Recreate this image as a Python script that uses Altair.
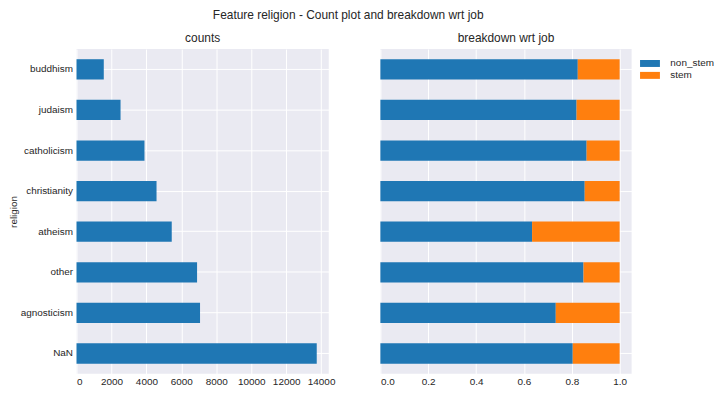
import altair as alt
import pandas as pd

religions = ["buddhism", "judaism", "catholicism", "christianity", "atheism", "other", "agnosticism", "NaN"]
counts = [1560, 2520, 3890, 4580, 5450, 6900, 7070, 13750]
non_stem_share = [0.825, 0.820, 0.862, 0.854, 0.634, 0.849, 0.733, 0.804]
stem_share = [0.175, 0.180, 0.138, 0.146, 0.366, 0.151, 0.267, 0.196]
jobs = ["non_stem", "stem"]
count_ticks = [0, 2000, 4000, 6000, 8000, 10000, 12000, 14000]
share_ticks = [0.0, 0.2, 0.4, 0.6, 0.8, 1.0]

FONT = "Liberation Sans"
TXT = "#262626"
BG = "#EAEAF2"

df_counts = pd.DataFrame({"religion": religions, "count": counts})
rows = []
for r, a, b in zip(religions, non_stem_share, stem_share):
    rows.append({"religion": r, "job": jobs[0], "share": a, "ord": 0})
    rows.append({"religion": r, "job": jobs[1], "share": b, "ord": 1})
df_share = pd.DataFrame(rows)

yscale = alt.Scale(domain=religions, paddingInner=0.5, paddingOuter=0.25)

left = alt.Chart(df_counts, title=alt.TitleParams("counts", fontSize=12, offset=4)).mark_bar(
    color="#1f77b4"
).encode(
    y=alt.Y("religion:N", scale=yscale, sort=religions,
            axis=alt.Axis(title="religion", labelPadding=4, titlePadding=2)),
    x=alt.X("count:Q", scale=alt.Scale(domain=[0, 14437], nice=False, zero=True),
            axis=alt.Axis(title=None, values=count_ticks, format="d")),
).properties(width=254, height=327)

right = alt.Chart(df_share, title=alt.TitleParams("breakdown wrt job", fontSize=12, offset=4)).mark_bar().encode(
    y=alt.Y("religion:N", scale=yscale, sort=religions,
            axis=alt.Axis(title=None, labels=False)),
    x=alt.X("share:Q", stack="zero", scale=alt.Scale(domain=[0, 1.05], nice=False),
            axis=alt.Axis(title=None, values=share_ticks, format=".1f")),
    color=alt.Color("job:N", scale=alt.Scale(domain=jobs, range=["#1f77b4", "#ff7f0e"]),
                    legend=alt.Legend(title=None, orient="none", legendX=571, legendY=8,
                                      symbolType="M-1.54,-0.54L1.54,-0.54L1.54,0.54L-1.54,0.54Z",
                                      symbolSize=169, symbolStrokeWidth=0, rowPadding=0,
                                      labelOffset=14, labelFontSize=10, labelColor=TXT,
                                      labelFont=FONT)),
    order=alt.Order("ord:Q"),
).properties(width=253, height=327)

chart = alt.hconcat(left, right, spacing=52, bounds="flush").properties(
    title=alt.TitleParams("Feature religion - Count plot and breakdown wrt job",
                          fontSize=12, fontWeight="normal", color=TXT, font=FONT,
                          anchor="middle", dx=-13, offset=10),
    padding={"left": 0, "top": 0, "right": 5, "bottom": 5},
).configure_view(
    fill=BG, stroke=None
).configure_axis(
    grid=True, gridColor="white", gridWidth=1, domain=False, ticks=False, tickSize=0,
    labelFont=FONT, labelFontSize=10, labelColor=TXT, labelPadding=3,
    titleFont=FONT, titleFontSize=10, titleColor=TXT, titleFontWeight="normal",
).configure_title(
    font=FONT, fontWeight="normal", color=TXT
).configure_legend(
    labelFont=FONT
)

chart.save("out.html", embed_options={"renderer": "svg", "actions": False})
